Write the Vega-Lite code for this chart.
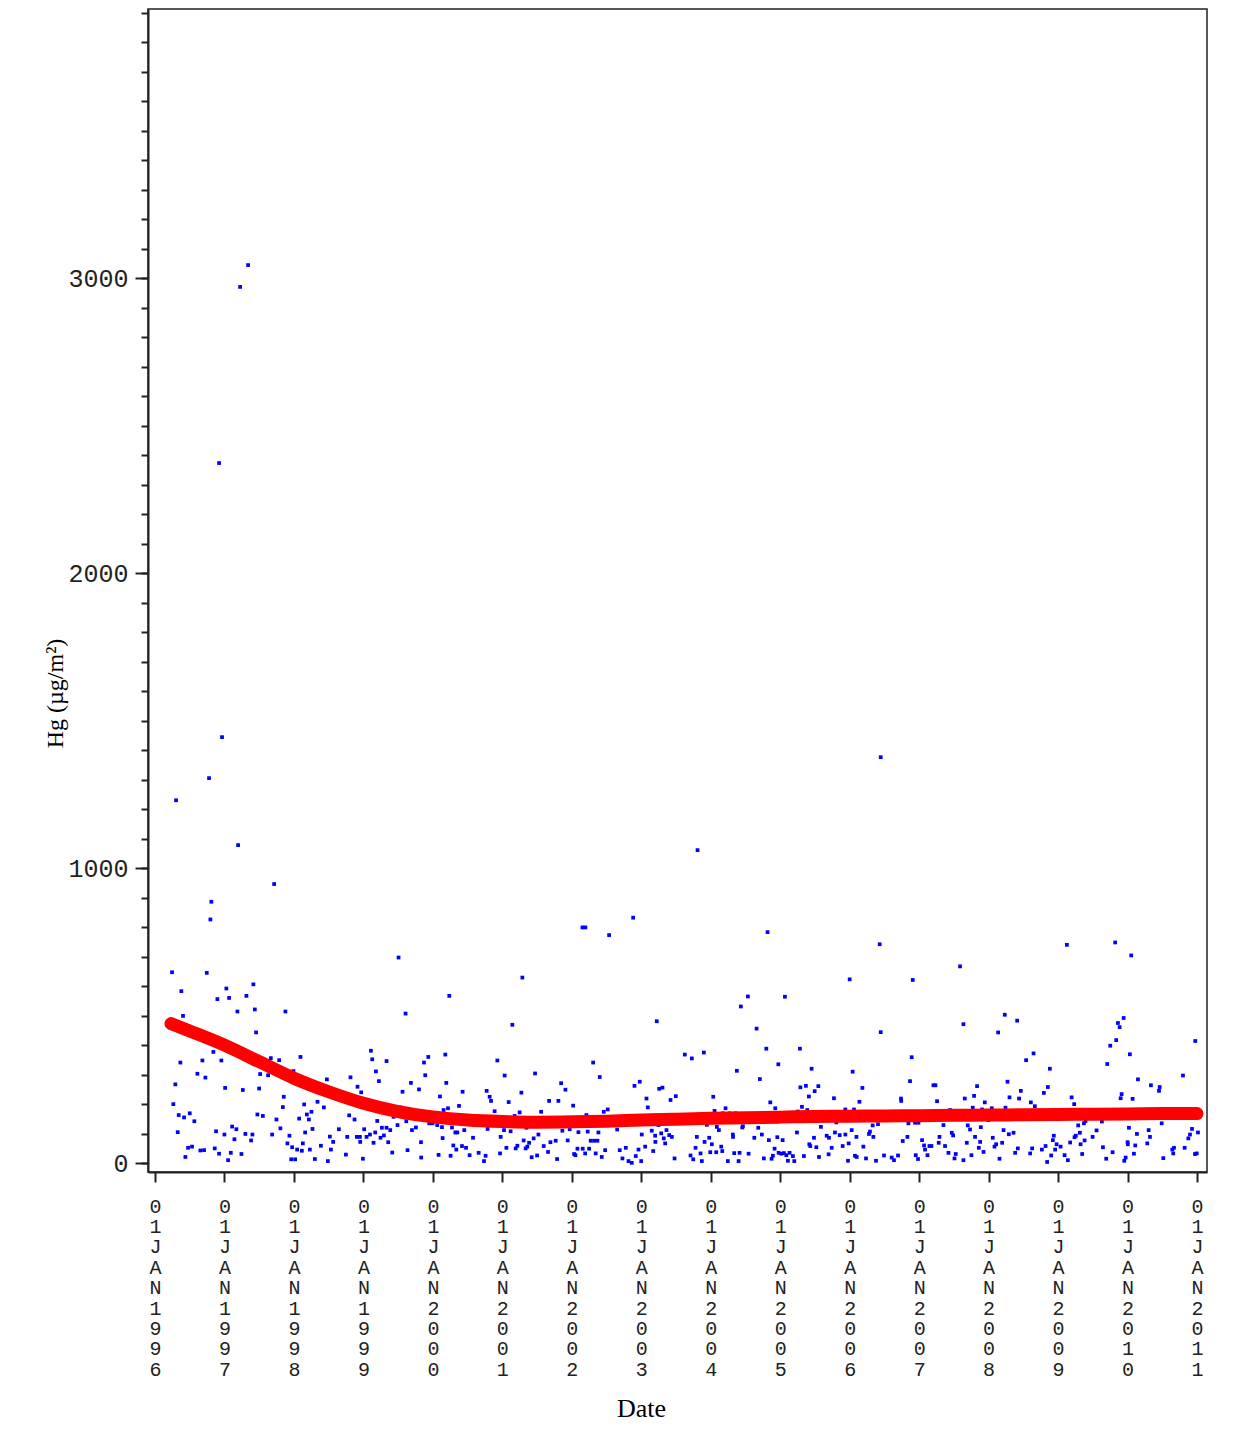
{
"$schema": "https://vega.github.io/schema/vega-lite/v6.json",
"width": 1059, "height": 1163,
"autosize": {"type": "none"},
"padding": {"left": 148, "top": 9, "right": 34, "bottom": 263},
"background": "white",
"config": {"view": {"stroke": "#222", "strokeWidth": 1.5}},
"datasets": {
"obs": [
{"date":1997.715,"hg":946},{"date":1996.811,"hg":886},{"date":1996.797,"hg":826},{"date":1996.245,"hg":647},{"date":1996.745,"hg":645},{"date":1996.379,"hg":583},{"date":1997.027,"hg":592},{"date":1996.898,"hg":556},{"date":1997.066,"hg":560},{"date":1997.316,"hg":567},{"date":1997.416,"hg":606},{"date":1996.403,"hg":499},{"date":1997.186,"hg":514},{"date":1997.437,"hg":521},{"date":1997.877,"hg":514},{"date":1997.455,"hg":443},{"date":1996.840,"hg":377},{"date":1996.365,"hg":341},{"date":1996.682,"hg":348},{"date":1996.955,"hg":348},{"date":1996.610,"hg":303},{"date":1996.725,"hg":290},{"date":1996.293,"hg":267},{"date":1997.667,"hg":356},{"date":1997.787,"hg":349},{"date":1998.094,"hg":360},{"date":1997.993,"hg":312},{"date":1997.513,"hg":302},{"date":1997.628,"hg":298},{"date":1997.009,"hg":255},{"date":1997.264,"hg":248},{"date":1997.499,"hg":253},{"date":1997.854,"hg":225},{"date":1997.840,"hg":190},{"date":1996.264,"hg":200},{"date":1996.341,"hg":163},{"date":1996.418,"hg":155},{"date":1996.500,"hg":169},{"date":1996.566,"hg":142},{"date":1996.327,"hg":105},{"date":1997.474,"hg":165},{"date":1997.552,"hg":160},{"date":1997.748,"hg":148},{"date":1998.147,"hg":199},{"date":1998.075,"hg":151},{"date":1998.186,"hg":165},{"date":1998.252,"hg":174},{"date":1998.215,"hg":148},{"date":1998.339,"hg":208},{"date":1998.431,"hg":189},{"date":1998.267,"hg":116},{"date":1998.161,"hg":104},{"date":1997.805,"hg":118},{"date":1997.935,"hg":93},{"date":1997.686,"hg":97},{"date":1997.110,"hg":124},{"date":1997.171,"hg":115},{"date":1996.999,"hg":97},{"date":1996.879,"hg":108},{"date":1997.143,"hg":81},{"date":1997.301,"hg":99},{"date":1997.402,"hg":97},{"date":1997.383,"hg":77},{"date":1997.906,"hg":67},{"date":1997.974,"hg":54},{"date":1998.046,"hg":46},{"date":1998.114,"hg":42},{"date":1998.128,"hg":67},{"date":1998.229,"hg":46},{"date":1998.388,"hg":59},{"date":1996.476,"hg":52},{"date":1996.533,"hg":56},{"date":1996.653,"hg":43},{"date":1996.706,"hg":44},{"date":1996.860,"hg":50},{"date":1996.922,"hg":32},{"date":1997.091,"hg":35},{"date":1997.244,"hg":31},{"date":1996.437,"hg":21},{"date":1997.052,"hg":10},{"date":1997.960,"hg":13},{"date":1998.017,"hg":13},{"date":1998.301,"hg":14},
{"date":1996.303,"hg":1230},{"date":1996.778,"hg":1305},{"date":1996.965,"hg":1444},{"date":1996.922,"hg":2373},{"date":1997.225,"hg":2970},{"date":1997.340,"hg":3044},{"date":1997.196,"hg":1078},{"date":2003.810,"hg":1061},{"date":2006.447,"hg":1376},
{"date":1999.506,"hg":697},{"date":2000.236,"hg":567},{"date":1999.607,"hg":507},{"date":1999.108,"hg":381},{"date":1999.127,"hg":352},{"date":1999.333,"hg":346},{"date":1999.180,"hg":311},{"date":1999.223,"hg":278},{"date":1998.474,"hg":284},{"date":1998.814,"hg":291},{"date":1998.915,"hg":259},{"date":1998.968,"hg":240},{"date":1998.795,"hg":162},{"date":1998.872,"hg":148},{"date":1998.647,"hg":115},{"date":1998.517,"hg":90},{"date":1998.565,"hg":72},{"date":1998.532,"hg":46},{"date":1998.488,"hg":7},{"date":1998.748,"hg":29},{"date":1998.767,"hg":89},{"date":1998.906,"hg":89},{"date":1998.950,"hg":89},{"date":1998.954,"hg":72},{"date":1998.993,"hg":15},{"date":1999.011,"hg":115},{"date":1999.045,"hg":89},{"date":1999.094,"hg":97},{"date":1999.146,"hg":69},{"date":1999.170,"hg":104},{"date":1999.199,"hg":143},{"date":1999.246,"hg":86},{"date":1999.266,"hg":120},{"date":1999.295,"hg":94},{"date":1999.333,"hg":120},{"date":1999.357,"hg":71},{"date":1999.386,"hg":112},{"date":1999.415,"hg":36},{"date":1999.434,"hg":157},{"date":1999.491,"hg":129},{"date":1999.530,"hg":189},{"date":1999.563,"hg":242},{"date":1999.617,"hg":142},{"date":1999.635,"hg":44},{"date":1999.684,"hg":272},{"date":1999.699,"hg":112},{"date":1999.756,"hg":121},{"date":1999.800,"hg":250},{"date":1999.829,"hg":71},{"date":1999.832,"hg":19},{"date":1999.872,"hg":341},{"date":1999.934,"hg":360},{"date":1999.890,"hg":298},{"date":1999.948,"hg":135},{"date":1999.996,"hg":135},{"date":2000.063,"hg":129},{"date":2000.082,"hg":28},{"date":2000.102,"hg":226},{"date":2000.131,"hg":122},{"date":2000.140,"hg":85},{"date":2000.154,"hg":180},{"date":2000.179,"hg":368},{"date":2000.193,"hg":272},{"date":2000.218,"hg":186},{"date":2000.255,"hg":25},{"date":2000.275,"hg":121},{"date":2000.294,"hg":60},{"date":2000.323,"hg":104},{"date":2000.352,"hg":104},{"date":2000.337,"hg":46},{"date":2000.376,"hg":194},{"date":2000.419,"hg":58},{"date":2000.428,"hg":242},{"date":2000.452,"hg":112},{"date":2000.477,"hg":52},{"date":2000.529,"hg":27},{"date":2000.578,"hg":86},{"date":2000.659,"hg":35},{"date":2000.736,"hg":7},{"date":2000.759,"hg":25},{"date":2000.774,"hg":245},{"date":2000.817,"hg":225},{"date":2000.837,"hg":211},{"date":2000.788,"hg":116},{"date":2000.889,"hg":176},{"date":2000.928,"hg":348},{"date":2000.967,"hg":33},{"date":2000.976,"hg":89},
{"date":2002.153,"hg":799},{"date":2002.196,"hg":799},{"date":2002.883,"hg":832},{"date":2002.537,"hg":773},{"date":2001.288,"hg":629},{"date":2001.144,"hg":469},{"date":2003.223,"hg":481},{"date":2002.307,"hg":341},{"date":2002.402,"hg":292},{"date":2001.033,"hg":297},{"date":2001.471,"hg":304},{"date":2001.274,"hg":239},{"date":2001.091,"hg":207},{"date":2001.846,"hg":271},{"date":2001.908,"hg":249},{"date":2001.673,"hg":211},{"date":2001.807,"hg":211},{"date":2002.019,"hg":195},{"date":2001.558,"hg":174},{"date":2001.249,"hg":172},{"date":2001.177,"hg":160},{"date":2002.210,"hg":163},{"date":2002.460,"hg":174},{"date":2002.517,"hg":182},{"date":2002.902,"hg":262},{"date":2002.978,"hg":276},{"date":2003.075,"hg":219},{"date":2003.094,"hg":189},{"date":2003.258,"hg":252},{"date":2003.305,"hg":256},{"date":2003.421,"hg":214},{"date":2003.497,"hg":227},{"date":2001.024,"hg":112},{"date":2001.119,"hg":108},{"date":2001.346,"hg":120},{"date":2001.519,"hg":97},{"date":2001.451,"hg":84},{"date":2001.307,"hg":77},{"date":2001.385,"hg":69},{"date":2001.360,"hg":56},{"date":2001.336,"hg":50},{"date":2001.216,"hg":59},{"date":2001.192,"hg":50},{"date":2001.058,"hg":52},{"date":2001.422,"hg":20},{"date":2001.500,"hg":26},{"date":2001.595,"hg":58},{"date":2001.658,"hg":38},{"date":2001.692,"hg":71},{"date":2001.768,"hg":76},{"date":2001.788,"hg":14},{"date":2001.864,"hg":110},{"date":2001.941,"hg":77},{"date":2001.970,"hg":115},{"date":2002.033,"hg":31},{"date":2002.052,"hg":27},{"date":2002.081,"hg":49},{"date":2002.095,"hg":105},{"date":2002.157,"hg":49},{"date":2002.192,"hg":33},{"date":2002.229,"hg":107},{"date":2002.249,"hg":49},{"date":2002.272,"hg":76},{"date":2002.321,"hg":76},{"date":2002.369,"hg":76},{"date":2002.383,"hg":104},{"date":2002.344,"hg":33},{"date":2002.431,"hg":21},{"date":2002.480,"hg":44},{"date":2002.653,"hg":114},{"date":2002.690,"hg":44},{"date":2002.729,"hg":16},{"date":2002.777,"hg":52},{"date":2002.816,"hg":7},{"date":2002.863,"hg":1},{"date":2002.921,"hg":24},{"date":2002.960,"hg":46},{"date":2003.007,"hg":97},{"date":2002.999,"hg":7},{"date":2003.056,"hg":56},{"date":2003.151,"hg":110},{"date":2003.172,"hg":41},{"date":2003.200,"hg":93},{"date":2003.203,"hg":72},{"date":2003.248,"hg":129},{"date":2003.287,"hg":101},{"date":2003.324,"hg":84},{"date":2003.344,"hg":67},{"date":2003.363,"hg":112},{"date":2003.402,"hg":95},{"date":2003.440,"hg":89},{"date":2003.479,"hg":16},
{"date":2004.818,"hg":783},{"date":2006.000,"hg":623},{"date":2004.535,"hg":565},{"date":2005.068,"hg":564},{"date":2004.434,"hg":531},{"date":2004.660,"hg":456},{"date":2004.800,"hg":388},{"date":2005.284,"hg":388},{"date":2003.627,"hg":368},{"date":2003.728,"hg":355},{"date":2003.901,"hg":375},{"date":2004.376,"hg":313},{"date":2004.973,"hg":335},{"date":2005.452,"hg":320},{"date":2006.043,"hg":310},{"date":2004.707,"hg":285},{"date":2005.290,"hg":257},{"date":2005.370,"hg":262},{"date":2005.496,"hg":244},{"date":2005.549,"hg":261},{"date":2005.413,"hg":226},{"date":2005.774,"hg":220},{"date":2004.036,"hg":225},{"date":2004.857,"hg":206},{"date":2004.929,"hg":186},{"date":2005.313,"hg":191},{"date":2005.390,"hg":180},{"date":2004.055,"hg":177},{"date":2004.213,"hg":186},{"date":2005.255,"hg":175},{"date":2005.938,"hg":182},{"date":2006.062,"hg":182},{"date":2004.174,"hg":169},{"date":2004.271,"hg":169},{"date":2004.357,"hg":169},{"date":2003.944,"hg":130},{"date":2004.088,"hg":123},{"date":2004.117,"hg":112},{"date":2004.463,"hg":125},{"date":2004.454,"hg":121},{"date":2004.684,"hg":120},{"date":2004.736,"hg":97},{"date":2004.627,"hg":86},{"date":2004.837,"hg":78},{"date":2004.958,"hg":88},{"date":2005.035,"hg":78},{"date":2004.318,"hg":97},{"date":2004.321,"hg":89},{"date":2003.800,"hg":89},{"date":2003.911,"hg":72},{"date":2003.978,"hg":86},{"date":2004.016,"hg":64},{"date":2004.151,"hg":56},{"date":2003.781,"hg":52},{"date":2003.853,"hg":33},{"date":2003.709,"hg":26},{"date":2003.748,"hg":13},{"date":2003.872,"hg":7},{"date":2003.993,"hg":37},{"date":2004.079,"hg":37},{"date":2004.166,"hg":41},{"date":2004.246,"hg":7},{"date":2004.338,"hg":34},{"date":2004.415,"hg":35},{"date":2004.401,"hg":7},{"date":2004.545,"hg":32},{"date":2004.765,"hg":16},{"date":2004.876,"hg":15},{"date":2004.895,"hg":25},{"date":2004.919,"hg":49},{"date":2004.977,"hg":35},{"date":2005.016,"hg":32},{"date":2005.053,"hg":34},{"date":2005.088,"hg":27},{"date":2005.111,"hg":8},{"date":2005.135,"hg":35},{"date":2005.183,"hg":24},{"date":2005.203,"hg":7},{"date":2005.241,"hg":104},{"date":2005.341,"hg":24},{"date":2005.419,"hg":64},{"date":2005.433,"hg":58},{"date":2005.486,"hg":86},{"date":2005.520,"hg":54},{"date":2005.558,"hg":21},{"date":2005.586,"hg":123},{"date":2005.669,"hg":93},{"date":2005.702,"hg":86},{"date":2005.697,"hg":30},{"date":2005.741,"hg":52},{"date":2005.788,"hg":104},{"date":2005.808,"hg":138},{"date":2005.856,"hg":95},{"date":2005.899,"hg":58},{"date":2005.938,"hg":97},{"date":2005.976,"hg":8},{"date":2005.986,"hg":67},{"date":2006.029,"hg":112},{"date":2006.076,"hg":25},{"date":2006.097,"hg":89},
{"date":2006.432,"hg":742},{"date":2007.589,"hg":667},{"date":2006.908,"hg":621},{"date":2006.447,"hg":444},{"date":2007.638,"hg":471},{"date":2008.137,"hg":443},{"date":2008.233,"hg":503},{"date":2008.411,"hg":483},{"date":2008.540,"hg":349},{"date":2008.647,"hg":372},{"date":2006.893,"hg":359},{"date":2006.183,"hg":255},{"date":2006.869,"hg":278},{"date":2007.206,"hg":264},{"date":2007.235,"hg":264},{"date":2007.834,"hg":261},{"date":2008.272,"hg":276},{"date":2008.464,"hg":245},{"date":2006.140,"hg":208},{"date":2006.739,"hg":219},{"date":2006.742,"hg":211},{"date":2007.258,"hg":210},{"date":2007.657,"hg":219},{"date":2007.791,"hg":228},{"date":2007.945,"hg":206},{"date":2008.301,"hg":223},{"date":2008.439,"hg":219},{"date":2008.608,"hg":206},{"date":2007.772,"hg":188},{"date":2007.906,"hg":182},{"date":2008.046,"hg":186},{"date":2008.243,"hg":188},{"date":2007.445,"hg":180},{"date":2007.037,"hg":174},{"date":2006.408,"hg":132},{"date":2006.331,"hg":128},{"date":2006.846,"hg":135},{"date":2006.941,"hg":137},{"date":2006.990,"hg":137},{"date":2007.350,"hg":129},{"date":2007.700,"hg":128},{"date":2007.888,"hg":122},{"date":2007.998,"hg":146},{"date":2006.292,"hg":107},{"date":2006.278,"hg":99},{"date":2006.341,"hg":89},{"date":2006.831,"hg":89},{"date":2006.764,"hg":75},{"date":2007.042,"hg":78},{"date":2007.293,"hg":89},{"date":2007.470,"hg":103},{"date":2007.489,"hg":94},{"date":2007.733,"hg":114},{"date":2007.805,"hg":89},{"date":2007.878,"hg":72},{"date":2008.060,"hg":86},{"date":2008.215,"hg":112},{"date":2008.291,"hg":98},{"date":2008.359,"hg":103},{"date":2007.071,"hg":60},{"date":2007.148,"hg":58},{"date":2007.177,"hg":58},{"date":2007.282,"hg":69},{"date":2007.373,"hg":58},{"date":2007.085,"hg":46},{"date":2007.120,"hg":27},{"date":2006.197,"hg":56},{"date":2007.686,"hg":69},{"date":2007.859,"hg":52},{"date":2007.927,"hg":38},{"date":2008.085,"hg":56},{"date":2008.108,"hg":64},{"date":2008.195,"hg":69},{"date":2008.421,"hg":50},{"date":2008.382,"hg":35},{"date":2008.598,"hg":33},{"date":2008.627,"hg":50},{"date":2006.101,"hg":21},{"date":2006.235,"hg":16},{"date":2006.379,"hg":8},{"date":2006.494,"hg":26},{"date":2006.605,"hg":19},{"date":2006.638,"hg":10},{"date":2006.696,"hg":26},{"date":2006.951,"hg":27},{"date":2006.984,"hg":14},{"date":2007.422,"hg":35},{"date":2007.509,"hg":16},{"date":2007.527,"hg":31},{"date":2007.638,"hg":10},{"date":2007.753,"hg":27},{"date":2008.157,"hg":15},
{"date":2009.127,"hg":740},{"date":2009.822,"hg":748},{"date":2010.053,"hg":704},{"date":2009.944,"hg":492},{"date":2009.862,"hg":475},{"date":2009.886,"hg":461},{"date":2009.837,"hg":417},{"date":2009.751,"hg":398},{"date":2010.034,"hg":369},{"date":2009.708,"hg":336},{"date":2008.882,"hg":320},{"date":2010.975,"hg":414},{"date":2010.798,"hg":297},{"date":2010.150,"hg":284},{"date":2010.337,"hg":264},{"date":2010.463,"hg":258},{"date":2010.453,"hg":245},{"date":2008.853,"hg":258},{"date":2008.796,"hg":238},{"date":2008.666,"hg":193},{"date":2009.195,"hg":223},{"date":2009.232,"hg":200},{"date":2009.915,"hg":234},{"date":2009.901,"hg":220},{"date":2010.073,"hg":218},{"date":2008.820,"hg":151},{"date":2009.396,"hg":143},{"date":2009.372,"hg":135},{"date":2009.290,"hg":128},{"date":2009.631,"hg":141},{"date":2009.554,"hg":111},{"date":2009.314,"hg":103},{"date":2009.256,"hg":93},{"date":2009.237,"hg":88},{"date":2009.497,"hg":89},{"date":2009.382,"hg":77},{"date":2009.324,"hg":64},{"date":2009.174,"hg":70},{"date":2008.939,"hg":93},{"date":2008.925,"hg":78},{"date":2008.979,"hg":64},{"date":2009.036,"hg":56},{"date":2008.958,"hg":46},{"date":2008.820,"hg":58},{"date":2008.767,"hg":46},{"date":2008.901,"hg":26},{"date":2008.843,"hg":4},{"date":2009.094,"hg":27},{"date":2009.141,"hg":10},{"date":2009.347,"hg":31},{"date":2009.646,"hg":54},{"date":2009.693,"hg":15},{"date":2009.785,"hg":37},{"date":2010.020,"hg":120},{"date":2010.135,"hg":99},{"date":2010.323,"hg":89},{"date":2010.304,"hg":112},{"date":2010.284,"hg":67},{"date":2010.001,"hg":71},{"date":2010.004,"hg":64},{"date":2010.111,"hg":60},{"date":2010.092,"hg":32},{"date":2009.973,"hg":19},{"date":2009.953,"hg":8},{"date":2010.492,"hg":135},{"date":2010.515,"hg":17},{"date":2010.644,"hg":46},{"date":2010.669,"hg":52},{"date":2010.658,"hg":33},{"date":2010.822,"hg":52},{"date":2010.928,"hg":116},{"date":2011.014,"hg":104},{"date":2010.899,"hg":97},{"date":2010.875,"hg":84},{"date":2010.971,"hg":31},{"date":2010.996,"hg":33}
],
"smooth": [
{"date":1996.23,"hg":473},{"date":1996.5,"hg":448},{"date":1997.0,"hg":400},{"date":1997.5,"hg":344},{"date":1998.0,"hg":288},{"date":1998.5,"hg":242},{"date":1999.0,"hg":203},{"date":1999.5,"hg":175},{"date":2000.0,"hg":157},{"date":2000.5,"hg":146},{"date":2001.0,"hg":141},{"date":2001.5,"hg":139},{"date":2002.0,"hg":140},{"date":2002.5,"hg":142},{"date":2003.0,"hg":146},{"date":2003.5,"hg":149},{"date":2004.0,"hg":152},{"date":2004.5,"hg":154},{"date":2005.0,"hg":156},{"date":2005.5,"hg":158},{"date":2006.0,"hg":159},{"date":2006.5,"hg":160},{"date":2007.0,"hg":161},{"date":2007.5,"hg":162},{"date":2008.0,"hg":163},{"date":2008.5,"hg":164},{"date":2009.0,"hg":165},{"date":2009.5,"hg":166},{"date":2010.0,"hg":167},{"date":2010.5,"hg":168},{"date":2011.0,"hg":168}
]
},
"layer": [
{"data": {"name": "obs"},
 "mark": {"type": "point", "shape": "square", "filled": true, "size": 14, "color": "#0000ff", "opacity": 1},
 "encoding": {
  "x": {"field": "date", "type": "quantitative",
        "scale": {"domain": [1995.899, 2011.144], "nice": false, "zero": false},
        "axis": {"values": [1996,1997,1998,1999,2000,2001,2002,2003,2004,2005,2006,2007,2008,2009,2010,2011],
                 "labelExpr": "split('01JAN' + datum.value, '')",
                 "labelFont": "Liberation Mono", "labelFontSize": 20, "labelLineHeight": 20.4,
                 "labelBaseline": "top", "labelAngle": 0, "labelPadding": 14, "labelColor": "#222",
                 "labelOverlap": false, "labelFlush": false,
                 "tickSize": 10, "tickColor": "#222", "tickWidth": 2,
                 "domainColor": "#222", "domainWidth": 2, "grid": false,
                 "title": "Date", "titleFont": "Liberation Serif", "titleFontSize": 26, "titleFontWeight": "normal",
                 "titleColor": "#000", "titleX": 493, "titleY": 236, "titleBaseline": "middle", "titleAlign": "center"}},
  "y": {"field": "hg", "type": "quantitative",
        "scale": {"domain": [-30, 3912], "nice": false, "zero": false},
        "axis": {"values": [0, 1000, 2000, 3000], "format": "d",
                 "labelFont": "Liberation Mono", "labelFontSize": 25, "labelColor": "#222", "labelPadding": 7,
                 "tickSize": 13, "tickColor": "#222", "tickWidth": 2,
                 "domainColor": "#222", "domainWidth": 2, "grid": false,
                 "title": "Hg (µg/m²)", "titleFont": "Liberation Serif", "titleFontSize": 24, "titleFontWeight": "normal",
                 "titleColor": "#000", "titleX": -93, "titleY": 684, "titleAngle": 270, "titleBaseline": "middle", "titleAlign": "center"}}
 }},
{"data": {"name": "smooth"},
 "mark": {"type": "line", "color": "#ff0000", "strokeWidth": 13, "strokeCap": "round", "strokeJoin": "round", "interpolate": "monotone"},
 "encoding": {
  "x": {"field": "date", "type": "quantitative", "title": "Date"},
  "y": {"field": "hg", "type": "quantitative",
        "axis": {"orient": "left", "values": [0,100,200,300,400,500,600,700,800,900,1000,1100,1200,1300,1400,1500,1600,1700,1800,1900,2000,2100,2200,2300,2400,2500,2600,2700,2800,2900,3000,3100,3200,3300,3400,3500,3600,3700,3800,3900],
                 "labels": false, "tickSize": 7, "tickColor": "#222", "tickWidth": 2, "domain": false, "grid": false, "title": null}}
 }}
],
"resolve": {"axis": {"y": "independent"}}
}
